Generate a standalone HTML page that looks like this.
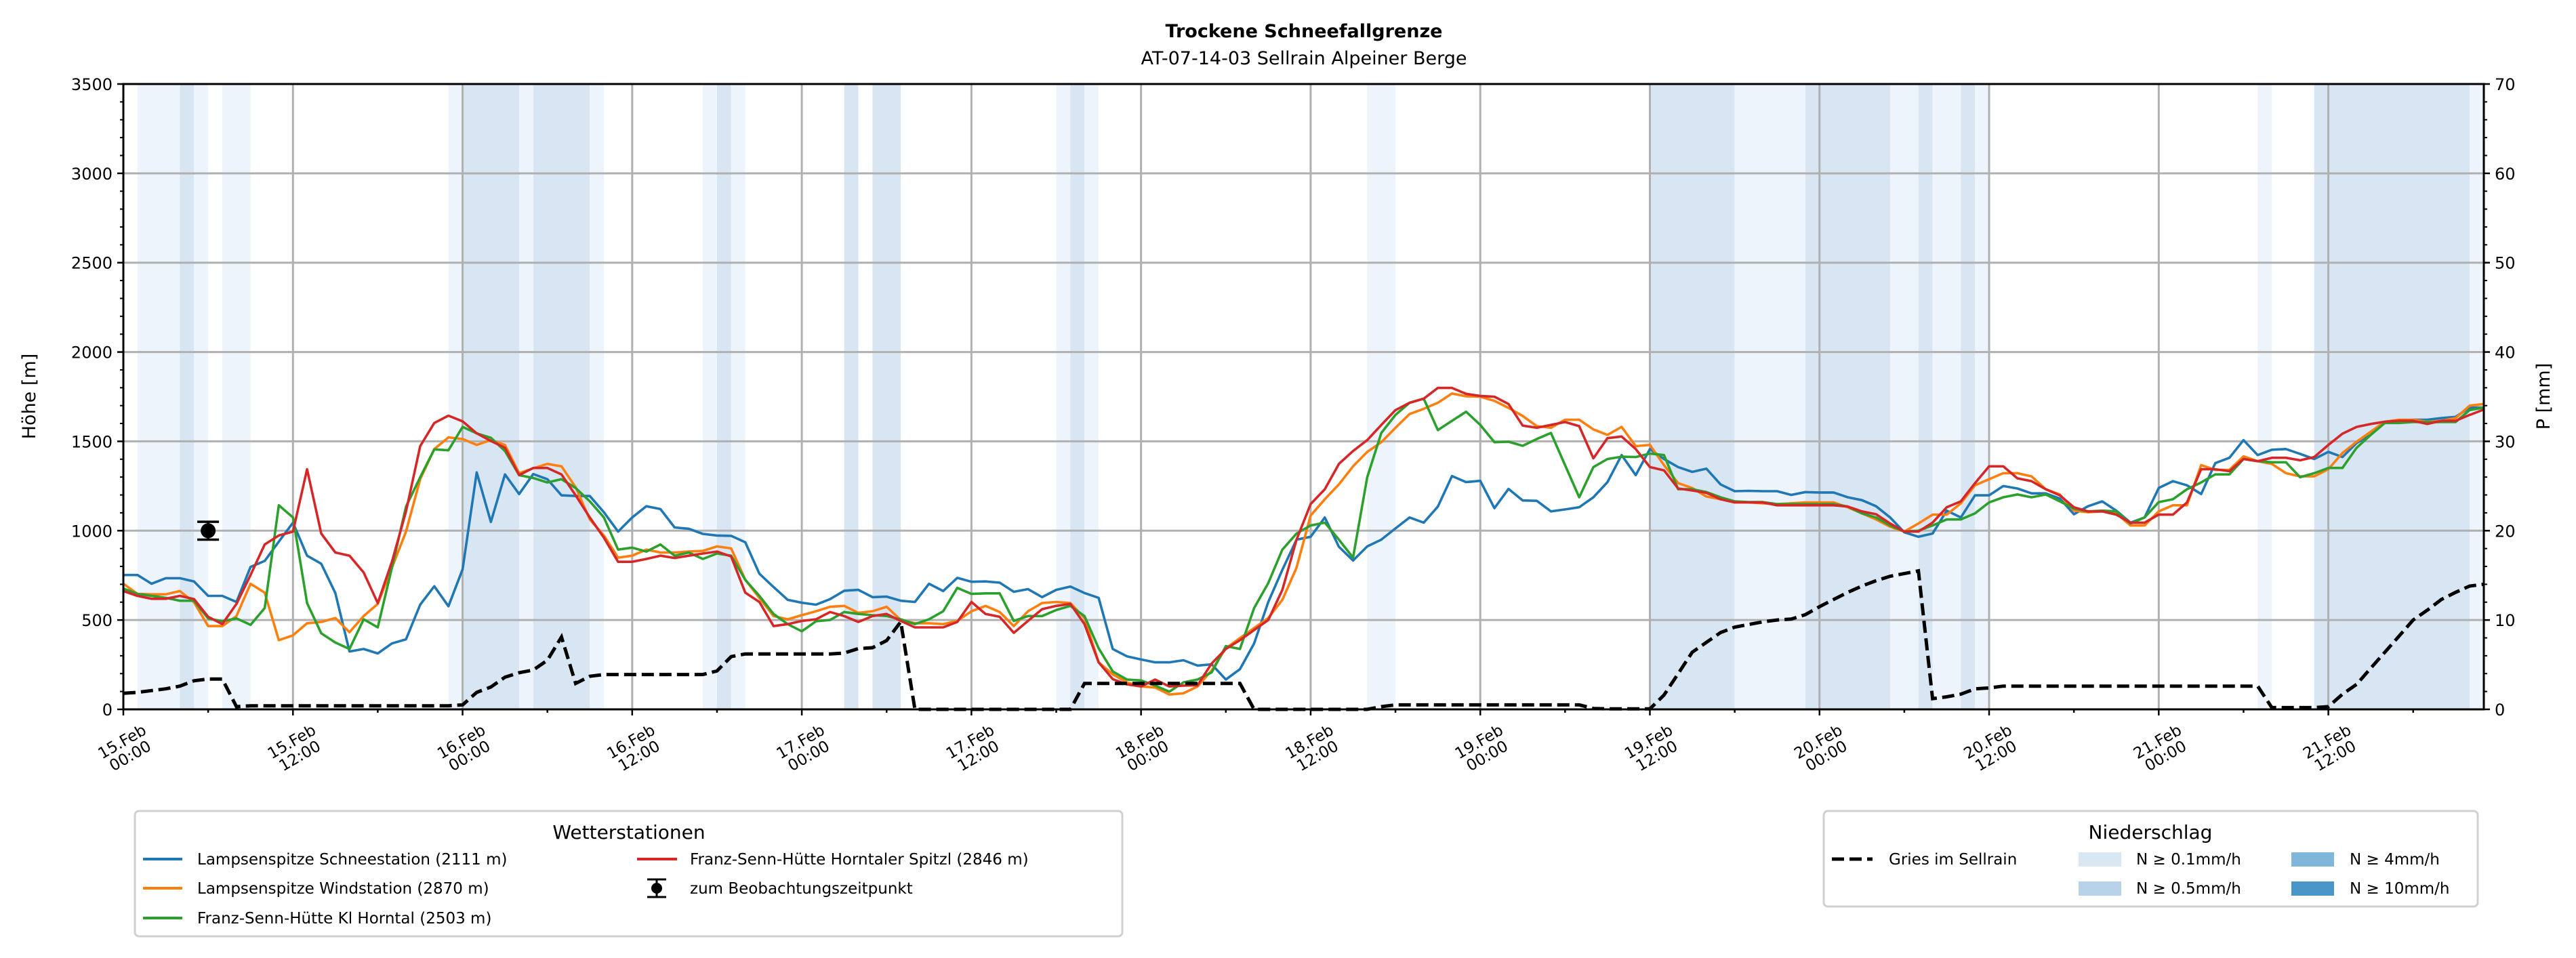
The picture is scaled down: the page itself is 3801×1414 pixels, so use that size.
<!DOCTYPE html>
<html><head><meta charset="utf-8"><style>
html,body{margin:0;padding:0;background:#fff;}
svg{display:block;font-family:"DejaVu Sans","Liberation Sans",sans-serif;}
</style></head><body>
<svg id="chart" width="3801" height="1414" viewBox="0 0 3801 1414" xmlns="http://www.w3.org/2000/svg">
<rect x="0" y="0" width="3801" height="1414" fill="#fff"/>
<g id="bands"></g>
<g id="grid"></g>
<g id="series"></g>
<g id="axes"></g>
<text x="1924" y="55" text-anchor="middle" font-size="27" font-weight="bold">Trockene Schneefallgrenze</text>
<text x="1924" y="95" text-anchor="middle" font-size="27">AT-07-14-03 Sellrain Alpeiner Berge</text>
<text transform="translate(52,585) rotate(-90)" text-anchor="middle" font-size="27">Höhe [m]</text>
<text transform="translate(3762,585) rotate(-90)" text-anchor="middle" font-size="27">P [mm]</text>

<g>
<rect x="199" y="1197" width="1457" height="185" rx="6" fill="#fff" stroke="#d0d0d0" stroke-width="3"/>
<text x="928" y="1238" text-anchor="middle" font-size="28">Wetterstationen</text>
<g><line x1="211" y1="1268" x2="269" y2="1268" stroke="#1f77b4" stroke-width="4"/><text x="291" y="1276" font-size="23">Lampsenspitze Schneestation (2111 m)</text></g>
<g><line x1="211" y1="1311" x2="269" y2="1311" stroke="#ff7f0e" stroke-width="4"/><text x="291" y="1319" font-size="23">Lampsenspitze Windstation (2870 m)</text></g>
<g><line x1="211" y1="1355" x2="269" y2="1355" stroke="#2ca02c" stroke-width="4"/><text x="291" y="1363" font-size="23">Franz-Senn-Hütte Kl Horntal (2503 m)</text></g>
<g><line x1="940" y1="1268" x2="999" y2="1268" stroke="#d62728" stroke-width="4"/><text x="1018" y="1276" font-size="23">Franz-Senn-Hütte Horntaler Spitzl (2846 m)</text></g>
<g><line x1="969" y1="1298" x2="969" y2="1324" stroke="#000" stroke-width="3"/><line x1="955" y1="1298" x2="983" y2="1298" stroke="#000" stroke-width="3"/><line x1="955" y1="1324" x2="983" y2="1324" stroke="#000" stroke-width="3"/><circle cx="969" cy="1311" r="8"/><text x="1018" y="1319" font-size="23">zum Beobachtungszeitpunkt</text></g>
</g>

<g>
<rect x="2691" y="1197" width="965" height="141" rx="6" fill="#fff" stroke="#d0d0d0" stroke-width="3"/>
<text x="3173" y="1238" text-anchor="middle" font-size="28">Niederschlag</text>
<g><line x1="2703" y1="1268" x2="2763" y2="1268" stroke="#000" stroke-width="5" stroke-dasharray="18,8"/><text x="2787" y="1276" font-size="23">Gries im Sellrain</text></g>
<g><rect x="3067" y="1258" width="63" height="21" fill="#d9e7f3"/><text x="3152" y="1276" font-size="23">N ≥ 0.1mm/h</text></g>
<g><rect x="3067" y="1301" width="63" height="21" fill="#b8d3e9"/><text x="3152" y="1319" font-size="23">N ≥ 0.5mm/h</text></g>
<g><rect x="3381" y="1258" width="63" height="21" fill="#7fb6da"/><text x="3467" y="1276" font-size="23">N ≥ 4mm/h</text></g>
<g><rect x="3381" y="1301" width="63" height="21" fill="#4b96c8"/><text x="3467" y="1319" font-size="23">N ≥ 10mm/h</text></g>
</g>
</svg>
<script>
// ---- data ----
const hours = []; for (let h = 0; h <= 167; h++) hours.push(h);
const blueSchnee = [752,752,703,734,734,716,635,635,601,797,831,939,1045,860,815,651,324,338,313,369,392,586,689,577,784,1326,1049,1315,1205,1317,1288,1198,1194,1194,1103,995,1074,1137,1121,1018,1011,982,973,971,
935,759,685,613,597,586,617,664,669,628,631,608,601,703,662,736,714,716,709,658,673,628,669,687,651,624,338,297,279,263,263,275,245,252,167,225,369,601,781,950,966,1074,
910,833,912,950,1013,1074,1045,1135,1306,1272,1279,1126,1234,1169,1167,1108,1119,1131,1187,1272,1423,1311,1457,1401,1356,1329,1347,1259,1221,1223,1221,1221,1200,1216,1214,1214,1187,1171,1137,1074,991,966,
984,1112,1074,1198,1198,1250,1236,1209,1209,1180,1092,1137,1164,1112,1045,1074,1239,1277,1254,1205,1378,1408,1507,1423,1453,1457,1430,1401,1441,1412,1491,1536,1610,1615,1621,1621,1630,1637,1689,1689];
const orangeWind = [703,646,644,644,662,599,466,466,522,703,653,387,414,482,489,511,432,522,590,793,995,1288,1457,1522,1513,1480,1507,1480,1322,1349,1374,1360,1243,1063,973,849,860,894,878,878,883,887,912,901,
725,624,522,504,527,549,574,579,540,549,574,500,482,482,477,495,549,579,545,466,549,595,601,595,511,263,196,151,128,122,83,90,128,218,342,399,455,511,613,793,1085,1176,
1259,1360,1441,1495,1576,1653,1682,1716,1768,1752,1750,1727,1687,1642,1585,1576,1621,1621,1567,1536,1581,1473,1480,1367,1266,1239,1191,1176,1164,1158,1153,1149,1153,1158,1158,1158,1131,1097,1063,1022,995,1040,
1090,1090,1153,1254,1288,1322,1322,1304,1232,1203,1112,1103,1108,1097,1029,1029,1108,1142,1142,1367,1340,1340,1416,1389,1374,1322,1304,1304,1344,1435,1498,1554,1610,1621,1621,1610,1615,1630,1700,1709];
const greenHorntal = [676,646,635,624,608,608,509,493,509,473,567,1142,1074,595,426,374,338,504,459,793,1135,1299,1455,1450,1581,1545,1520,1446,1311,1295,1270,1288,1239,1164,1074,894,905,883,923,860,878,842,872,860,
725,635,534,477,437,493,500,545,534,527,522,504,477,504,549,680,646,649,649,495,522,522,556,579,522,342,212,167,162,133,99,151,167,207,354,338,567,707,894,984,1029,1045,
950,849,1299,1547,1648,1716,1739,1563,1615,1666,1592,1495,1498,1475,1513,1547,1367,1187,1356,1401,1414,1412,1432,1423,1232,1232,1216,1187,1164,1160,1160,1149,1149,1149,1149,1149,1135,1097,1074,1029,995,1000,
1029,1063,1063,1097,1158,1187,1203,1187,1203,1164,1124,1108,1112,1108,1040,1074,1160,1176,1232,1270,1315,1315,1401,1389,1383,1383,1299,1322,1351,1351,1464,1536,1603,1603,1608,1608,1608,1608,1675,1689];
const redSpitzl = [662,635,619,619,635,617,518,477,590,752,923,973,995,1344,984,878,860,766,595,826,1108,1473,1603,1644,1612,1545,1502,1464,1311,1351,1351,1315,1198,1074,961,826,826,842,860,847,860,872,883,856,
653,601,466,477,495,504,545,522,489,522,534,495,459,459,459,489,601,534,518,428,495,561,579,590,477,263,169,140,128,167,128,133,135,257,338,387,444,500,669,950,1149,1232,
1374,1446,1507,1592,1675,1716,1739,1799,1799,1766,1754,1750,1709,1588,1576,1592,1608,1585,1405,1518,1527,1457,1356,1338,1236,1225,1212,1176,1158,1158,1158,1142,1142,1142,1142,1142,1135,1108,1092,1040,995,995,
1045,1131,1164,1266,1360,1360,1293,1277,1232,1198,1131,1108,1108,1090,1045,1045,1090,1090,1158,1344,1344,1333,1401,1389,1408,1408,1394,1412,1480,1543,1581,1597,1610,1615,1615,1597,1615,1615,1648,1678];
const griesMm = [1.8,1.9,2.1,2.3,2.6,3.2,3.4,3.4,
0.3,0.4,0.4,0.4,0.4,0.4,0.4,0.4,0.4,0.4,0.4,0.4,0.4,0.4,0.4,0.4,0.5,
1.9,2.5,3.6,4.1,4.4,5.5,8.1,2.9,3.7,3.9,3.9,3.9,3.9,3.9,3.9,3.9,3.9,4.3,5.9,
6.2,6.2,6.2,6.2,6.2,6.2,6.2,
6.3,6.8,6.9,7.7,9.8,
0,0,0,0,0,0,0,0,0,0,0,0,
2.9,2.9,2.9,2.9,2.9,2.9,2.9,2.9,2.9,2.9,2.9,2.9,
0,0,0,0,0,0,0,0,0,
0.3,
0.5,0.5,0.5,0.5,0.5,0.5,0.5,0.5,0.5,0.5,0.5,0.5,0.5,0.5,
0.1,
0.05,0.05,0.05,0.05,
1.6,4.0,6.4,7.5,8.6,9.2,9.5,9.8,10.0,10.1,10.6,11.5,12.3,13.1,13.8,14.4,14.9,15.2,15.5,
1.2,1.4,1.7,2.3,2.4,
2.6,2.6,2.6,2.6,2.6,2.6,2.6,2.6,2.6,2.6,2.6,2.6,2.6,2.6,2.6,2.6,2.6,2.6,2.6,
0.2,0.2,0.2,0.2,
0.3,1.7,2.8,4.6,6.4,8.2,10.0,11.1,12.3,13.1,13.8,14.0];
const bandStart = [1,4,5,7,23,24,28,29,33,41,42,43,51,53,66,67,68,88,108,114,119,125,127,128,130,131,151,155,166];
const bandEnd   = [4,5,6,9,24,28,29,33,34,42,43,44,52,55,67,68,69,90,114,119,125,127,128,130,131,132,152,166,167];
const bandLevel = [1,2,1,1,1,2,1,2,1,1,2,1,2,2,1,2,1,1,2,1,2,1,2,1,2,1,1,2,1];
const obsHour = [6]; const obsValue = [1000]; const obsErr = [50];
const yTicks = [0,500,1000,1500,2000,2500,3000,3500];
const y2Ticks = [0,10,20,30,40,50,60,70];
const xTickHours = [0,12,24,36,48,60,72,84,96,108,120,132,144,156];
const xTickDay = ["15.Feb","15.Feb","16.Feb","16.Feb","17.Feb","17.Feb","18.Feb","18.Feb","19.Feb","19.Feb","20.Feb","20.Feb","21.Feb","21.Feb"];
const xTickTime = ["00:00","12:00","00:00","12:00","00:00","12:00","00:00","12:00","00:00","12:00","00:00","12:00","00:00","12:00"];

// ---- scales ----
const L=182,R=3665,T=124,B=1047, XMAX=167;
const X = h => L + (R-L)*h/XMAX;
const Y = v => B - (B-T)*v/3500;
const Y2 = v => B - (B-T)*v/70;
const NS="http://www.w3.org/2000/svg";
function mk(tag, attrs, parent){const e=document.createElementNS(NS,tag);for(const k in attrs)e.setAttribute(k,attrs[k]);parent.appendChild(e);return e;}

const gB=document.getElementById('bands');
const bandColors={1:"#eef4fb",2:"#d8e6f3"};
for(let i=0;i<bandStart.length;i++){
  const r=mk('rect',{x:X(bandStart[i]),y:T,width:X(bandEnd[i])-X(bandStart[i]),height:B-T,fill:bandColors[bandLevel[i]]},gB);
  
  
}
const gG=document.getElementById('grid');
yTicks.forEach(v=>{const l=mk('line',{x1:L,x2:R,y1:Y(v),y2:Y(v),stroke:"#b0b0b0","stroke-width":3},gG);
  
  });
xTickHours.forEach(h=>{const l=mk('line',{x1:X(h),x2:X(h),y1:T,y2:B,stroke:"#b0b0b0","stroke-width":3},gG);
  
  });

const gS=document.getElementById('series');
function path(vals, fy){return vals.map((v,i)=>(i?'L':'M')+X(hours[i]).toFixed(1)+','+fy(v).toFixed(1)).join(' ');}
const seriesDefs=[[blueSchnee,"#1f77b4","line-lampsenspitze-schneestation"],[orangeWind,"#ff7f0e","line-lampsenspitze-windstation"],[greenHorntal,"#2ca02c","line-franz-senn-kl-horntal"],[redSpitzl,"#d62728","line-franz-senn-horntaler-spitzl"]];
seriesDefs.forEach(s=>{const p=mk('path',{d:path(s[0],Y),fill:"none",stroke:s[1],"stroke-width":3.6,"stroke-linejoin":"round"},gS);
  
  });
const gp=mk('path',{d:path(griesMm,Y2),fill:"none",stroke:"#000","stroke-width":5,"stroke-dasharray":"18,8"},gS);


for(let i=0;i<obsHour.length;i++){
  const g=mk('g',{},gS);
  
  
  const x=X(obsHour[i]),y0=Y(obsValue[i]-obsErr[i]),y1=Y(obsValue[i]+obsErr[i]);
  mk('line',{x1:x,x2:x,y1:y0,y2:y1,stroke:"#000","stroke-width":3.5},g);
  mk('line',{x1:x-16,x2:x+16,y1:y0,y2:y0,stroke:"#000","stroke-width":3.5},g);
  mk('line',{x1:x-16,x2:x+16,y1:y1,y2:y1,stroke:"#000","stroke-width":3.5},g);
  mk('circle',{cx:x,cy:Y(obsValue[i]),r:11,fill:"#000"},g);
}

const gA=document.getElementById('axes');
mk('rect',{x:L,y:T,width:R-L,height:B-T,fill:"none",stroke:"#000","stroke-width":3},gA);
for(let v=0;v<=3500;v+=100){const major=v%500===0;const len=major?9:5;
  mk('line',{x1:L-len,x2:L,y1:Y(v),y2:Y(v),stroke:"#000","stroke-width":major?2.5:2},gA);
  mk('line',{x1:R,x2:R+len,y1:Y(v),y2:Y(v),stroke:"#000","stroke-width":major?2.5:2},gA);}
yTicks.forEach(v=>{const t=mk('text',{x:L-16,y:Y(v)+9,"text-anchor":"end","font-size":24},gA);t.textContent=v;
  
  });
y2Ticks.forEach(v=>{const t=mk('text',{x:R+16,y:Y2(v)+9,"text-anchor":"start","font-size":24},gA);t.textContent=v;
  
  });
for(let h=0;h<=XMAX;h+=6){const major=h%12===0;
  mk('line',{x1:X(h),x2:X(h),y1:B,y2:B+(major?9:5),stroke:"#000","stroke-width":2.5},gA);}
xTickHours.forEach((h,i)=>{
  const g=mk('g',{transform:`translate(${X(h)+4},${B+58}) rotate(-30)`},gA);
  
  
  const a=mk('text',{x:0,y:-4,"text-anchor":"middle","font-size":23},g);a.textContent=xTickDay[i];
  const b=mk('text',{x:0,y:20,"text-anchor":"middle","font-size":23},g);b.textContent=xTickTime[i];
});
</script>
</body></html>
